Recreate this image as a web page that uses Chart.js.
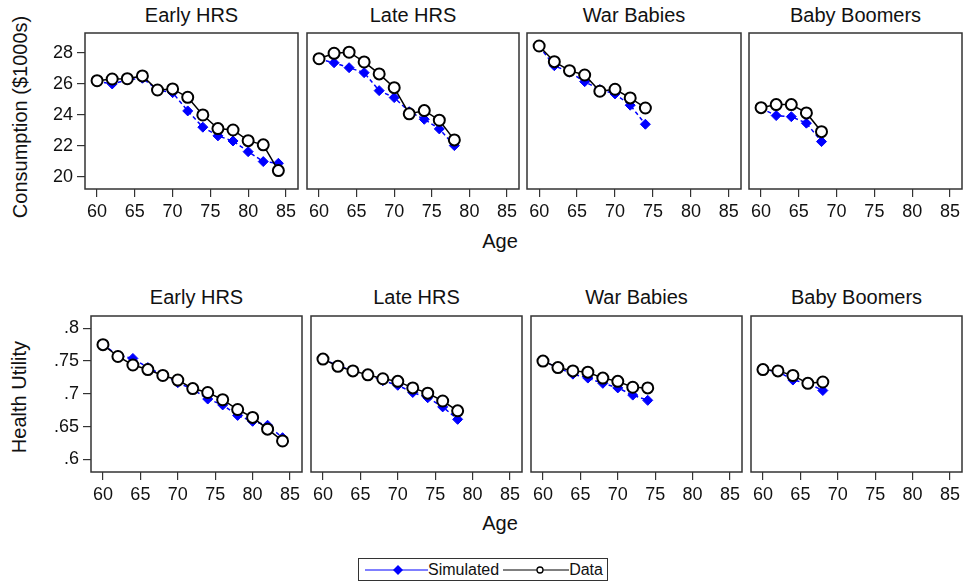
<!DOCTYPE html>
<html>
<head>
<meta charset="utf-8">
<script src="https://cdn.jsdelivr.net/npm/chart.js@4.4.1/dist/chart.umd.min.js"></script>
<style>
body { margin: 0; background: #fff; font-family: "Liberation Sans", Arial, sans-serif; }
#wrap { position: relative; width: 964px; height: 588px; overflow: hidden; background: #fff; }
#wrap canvas { position: absolute; }
.lbl { position: absolute; font-size: 20px; color: #111; white-space: nowrap; transform: translate(-50%, -50%); }
.ytitle { transform: translate(-50%, -50%) rotate(-90deg); }
#legend { position: absolute; left: 358px; top: 558px; width: 250px; height: 23px; border: 1px solid #333;
          display: flex; align-items: center; font-size: 16px; color: #111; box-sizing: border-box; padding-left: 6px; }
#legend svg { display: block; }
</style>
</head>
<body>
<div id="wrap">
  <div class="lbl ytitle" style="left:20px;top:117px">Consumption ($1000s)</div>
  <div class="lbl ytitle" style="left:19px;top:397px">Health Utility</div>
  <div class="lbl" style="left:500px;top:241px">Age</div>
  <div class="lbl" style="left:500px;top:523px">Age</div>
  <div id="legend">
    <svg width="63" height="20"><line x1="0" y1="10" x2="63" y2="10" stroke="#0000ff" stroke-width="1"/><path d="M33 5 L38 10 L33 15 L28 10 Z" fill="#0000ff"/></svg>
    <span>Simulated</span>
    <svg width="66" height="20" style="margin-left:4px"><line x1="0" y1="10" x2="66" y2="10" stroke="#000" stroke-width="1"/><circle cx="37" cy="10" r="3" fill="#fff" stroke="#000" stroke-width="1.3"/></svg>
    <span>Data</span>
  </div>
</div>
<script>
// ---- data ----
var cohorts = ["Early HRS", "Late HRS", "War Babies", "Baby Boomers"]

var agesEarlyHRS = [60, 62, 64, 66, 68, 70, 72, 74, 76, 78, 80, 82, 84]
var agesLateHRS = [60, 62, 64, 66, 68, 70, 72, 74, 76, 78]
var agesWarBabies = [60, 62, 64, 66, 68, 70, 72, 74]
var agesBabyBoomers = [60, 62, 64, 66, 68]

// consumption, $1000s
var consDataEarlyHRS = [26.19, 26.30, 26.32, 26.50, 25.59, 25.66, 25.12, 23.98, 23.10, 23.01, 22.32, 22.05, 20.39]
var consSimEarlyHRS  = [26.15, 25.98, 26.24, 26.35, 25.60, 25.42, 24.24, 23.19, 22.63, 22.30, 21.61, 20.97, 20.86]
var consDataLateHRS  = [27.61, 27.96, 28.03, 27.40, 26.63, 25.74, 24.05, 24.26, 23.64, 22.37]
var consSimLateHRS   = [27.58, 27.35, 27.03, 26.71, 25.55, 25.10, 24.19, 23.70, 23.08, 22.00]
var consDataWarBabies = [28.43, 27.42, 26.84, 26.56, 25.51, 25.64, 25.08, 24.43]
var consSimWarBabies  = [28.40, 27.16, 26.74, 26.13, 25.62, 25.34, 24.61, 23.38]
var consDataBabyBoomers = [24.45, 24.65, 24.65, 24.11, 22.90]
var consSimBabyBoomers  = [24.40, 23.94, 23.87, 23.45, 22.26]

// health utility
var utilDataEarlyHRS = [0.775, 0.757, 0.744, 0.737, 0.728, 0.721, 0.708, 0.702, 0.691, 0.676, 0.664, 0.646, 0.628]
var utilSimEarlyHRS  = [0.775, 0.759, 0.754, 0.740, 0.729, 0.717, 0.707, 0.692, 0.683, 0.667, 0.658, 0.652, 0.633]
var utilDataLateHRS  = [0.753, 0.742, 0.735, 0.729, 0.723, 0.719, 0.709, 0.701, 0.689, 0.674]
var utilSimLateHRS   = [0.753, 0.743, 0.735, 0.729, 0.720, 0.713, 0.702, 0.694, 0.680, 0.661]
var utilDataWarBabies = [0.750, 0.740, 0.735, 0.733, 0.724, 0.719, 0.710, 0.709]
var utilSimWarBabies  = [0.750, 0.740, 0.730, 0.724, 0.716, 0.709, 0.698, 0.690]
var utilDataBabyBoomers = [0.737, 0.735, 0.728, 0.716, 0.718]
var utilSimBabyBoomers  = [0.737, 0.734, 0.721, 0.716, 0.705]

var ageTicks = [60, 65, 70, 75, 80, 85]
var consTicks = [20, 22, 24, 26, 28]
var utilTicks = [0.6, 0.65, 0.7, 0.75, 0.8]

// ---- layout ----
var cohortAges = [agesEarlyHRS, agesLateHRS, agesWarBabies, agesBabyBoomers]
var rows = [
    { data: [consDataEarlyHRS, consDataLateHRS, consDataWarBabies, consDataBabyBoomers],
      sim: [consSimEarlyHRS, consSimLateHRS, consSimWarBabies, consSimBabyBoomers],
      ticks: consTicks, min: 19.2, max: 29.27, top: 33, bottom: 189, titleY: 15,
      cols: [[85, 298], [307, 519], [527, 741], [749, 962]],
      fmt: function(v){ return String(v) } },
    { data: [utilDataEarlyHRS, utilDataLateHRS, utilDataWarBabies, utilDataBabyBoomers],
      sim: [utilSimEarlyHRS, utilSimLateHRS, utilSimWarBabies, utilSimBabyBoomers],
      ticks: utilTicks, min: 0.5806, max: 0.8188, top: 316, bottom: 472, titleY: 297,
      cols: [[91, 302], [311, 522], [531, 742], [751, 962]],
      fmt: function(v){ return String(v).replace(/^0/, '') } }
]

var framePlugin = {
    id: 'frame',
    beforeDatasetsDraw: function(chart){
        var a = chart.chartArea, ctx = chart.ctx
        ctx.save()
        ctx.strokeStyle = '#333'
        ctx.lineWidth = 1.5
        ctx.strokeRect(a.left, a.top, a.right - a.left, a.bottom - a.top)
        ctx.restore()
    }
}

function pts(xs, ys){
    return xs.map(function(x, i){ return { x: x, y: ys[i] } })
}

var wrap = document.getElementById('wrap')
var leftW = 50, pad = 3, bottomH = 34

rows.forEach(function(row){
    row.cols.forEach(function(c, col){
        var L = c[0], R = c[1], first = col === 0
        var cv = document.createElement('canvas')
        var w = (first ? leftW : pad) + (R - L) + pad
        var h = pad + (row.bottom - row.top) + bottomH
        cv.width = w; cv.height = h
        cv.style.left = (L - (first ? leftW : pad)) + 'px'
        cv.style.top = (row.top - pad) + 'px'
        wrap.appendChild(cv)

        var t = document.createElement('div')
        t.className = 'lbl'
        t.style.left = ((L + R) / 2) + 'px'
        t.style.top = row.titleY + 'px'
        t.textContent = cohorts[col]
        wrap.appendChild(t)

        new Chart(cv.getContext('2d'), {
            type: 'line',
            data: {
                datasets: [
                    {
                        label: 'Simulated',
                        data: pts(cohortAges[col], row.sim[col]),
                        borderColor: '#0000ff',
                        backgroundColor: '#0000ff',
                        borderWidth: 1.5,
                        borderDash: [4, 3],
                        pointStyle: 'rectRot',
                        pointRadius: 5,
                        pointBorderWidth: 1,
                        order: 1
                    },
                    {
                        label: 'Data',
                        data: pts(cohortAges[col], row.data[col]),
                        borderColor: '#000',
                        backgroundColor: '#fff',
                        borderWidth: 1.5,
                        pointStyle: 'circle',
                        pointRadius: 5.5,
                        pointBorderWidth: 2,
                        order: 0
                    }
                ]
            },
            options: {
                responsive: false,
                animation: false,
                layout: { autoPadding: false,
                          padding: { top: pad, right: pad, bottom: 0, left: first ? 0 : pad } },
                plugins: { legend: { display: false }, tooltip: { enabled: false } },
                scales: {
                    x: {
                        type: 'linear', min: 58.4, max: 86.6,
                        afterBuildTicks: function(s){ s.ticks = ageTicks.map(function(v){ return { value: v } }) },
                        afterFit: function(s){
                            s.height = bottomH
                            s.paddingLeft = 0; s.paddingRight = 0
                        },
                        ticks: { autoSkip: false, maxRotation: 0, padding: 4, color: '#111',
                                 font: { family: 'Liberation Sans', size: 18 } },
                        grid: { drawOnChartArea: false, tickLength: 8, color: '#333', lineWidth: 1.2 },
                        border: { display: false }
                    },
                    y: {
                        display: first,
                        min: row.min, max: row.max,
                        afterBuildTicks: function(s){ s.ticks = row.ticks.map(function(v){ return { value: v } }) },
                        afterFit: function(s){
                            s.width = first ? leftW : 0
                            s.paddingTop = 0; s.paddingBottom = 0
                        },
                        ticks: { autoSkip: false, padding: 4, color: '#111',
                                 font: { family: 'Liberation Sans', size: 18 },
                                 callback: function(v){ return row.fmt(v) } },
                        grid: { drawOnChartArea: false, tickLength: 8, color: '#333', lineWidth: 1.2 },
                        border: { display: false }
                    }
                }
            },
            plugins: [framePlugin]
        })
    })
})
</script>
</body>
</html>
